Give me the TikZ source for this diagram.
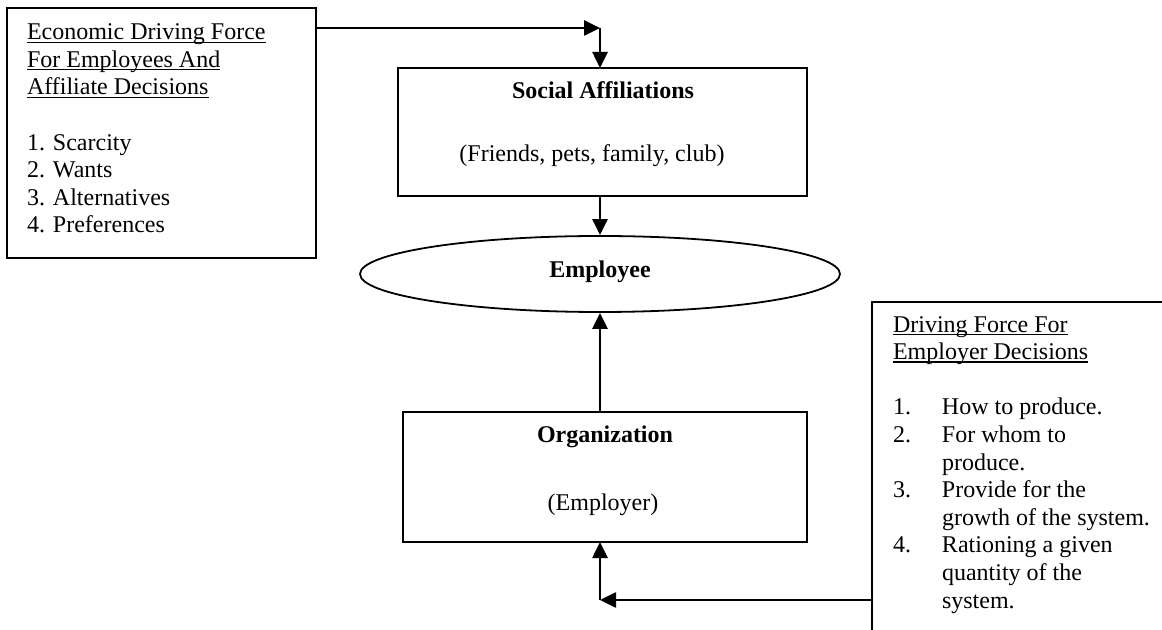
\documentclass[tikz,border=0pt]{standalone}
\usepackage{fontspec}
\setmainfont{Liberation Serif}
\usetikzlibrary{arrows.meta,shapes.geometric,positioning}
\newcommand{\ulhead}[1]{\setbox0=\hbox{#1}\rlap{\rule[-1.5pt]{\wd0}{0.6pt}}\box0}
\newcommand{\itm}[1]{\makebox[24.5pt][l]{#1}}
\tikzset{
	box/.style={draw,line width=1pt,inner sep=0pt,outer sep=0pt,anchor=north west},
	txt/.style={font=\fontsize{12}{13.8}\selectfont,inner sep=0pt,outer sep=0pt},
	conn/.style={line width=1.3pt,-{Triangle[length=8pt,width=7.5pt]}}
}

\begin{document}
\begin{tikzpicture}[x=0.5pt,y=-0.5pt]
		\path[use as bounding box,clip] (0,0) rectangle (1162,630);
		% boxes
		\node[box,minimum width=154.5pt,minimum height=125pt] (econ) at (7,8) {};
		\node[box,minimum width=204.5pt,minimum height=64pt] (social) at (398,68) {};
		\node[draw,ellipse,line width=0.9pt,inner sep=0pt,minimum width=240pt,minimum height=38pt] (emp) at (600,274) {};
		\node[box,minimum width=202pt,minimum height=65pt] (org) at (403,412) {};
		\node[box,minimum width=170pt,minimum height=190pt] (plan) at (872,302) {};
		% texts (base = last line)
		\node[txt,anchor=base west,align=left] (econT) at (27,233) {\ulhead{Economic Driving Force}\\\ulhead{For Employees And}\\\ulhead{Affiliate Decisions}\\[13.8pt]1. Scarcity\\2. Wants\\3. Alternatives\\4. Preferences};
		\node[txt,anchor=base,font=\fontsize{12}{13.8}\selectfont\bfseries] (socT) at (603,99) {Social Affiliations};
		\node[txt,anchor=base] (socS) at (592,162) {(Friends, pets, family, club)};
		\node[txt,anchor=base,font=\fontsize{12}{13.8}\selectfont\bfseries] (empT) at (600,278) {Employee};
		\node[txt,anchor=base,font=\fontsize{12}{13.8}\selectfont\bfseries] (orgT) at (605,443) {Organization};
		\node[txt,anchor=base] (orgS) at (603,510) {(Employer)};
		\node[txt,anchor=base west,align=left] (planT) at (893,608) {\ulhead{Driving Force For}\\\ulhead{Employer Decisions}\\[13.8pt]\itm{1.}How to produce.\\\itm{2.}For whom to\\\itm{}produce.\\\itm{3.}Provide for the\\\itm{}growth of the system.\\\itm{4.}Rationing a given\\\itm{}quantity of the\\\itm{}system.};
		% connectors
		\coordinate (top) at (600,28);
		\coordinate (bot) at (600,600);
		\draw[conn] (econ.east |- top) -- (top);
		\draw[conn] (top) -- (top |- social.north);
		\draw[conn] (emp.north |- social.south) -- (emp.north);
		\draw[conn] (emp.south |- org.north) -- (emp.south);
		\draw[conn] (plan.west |- bot) -- (bot);
		\draw[conn] (bot) -- (bot |- org.south);
	\end{tikzpicture}
\end{document}
